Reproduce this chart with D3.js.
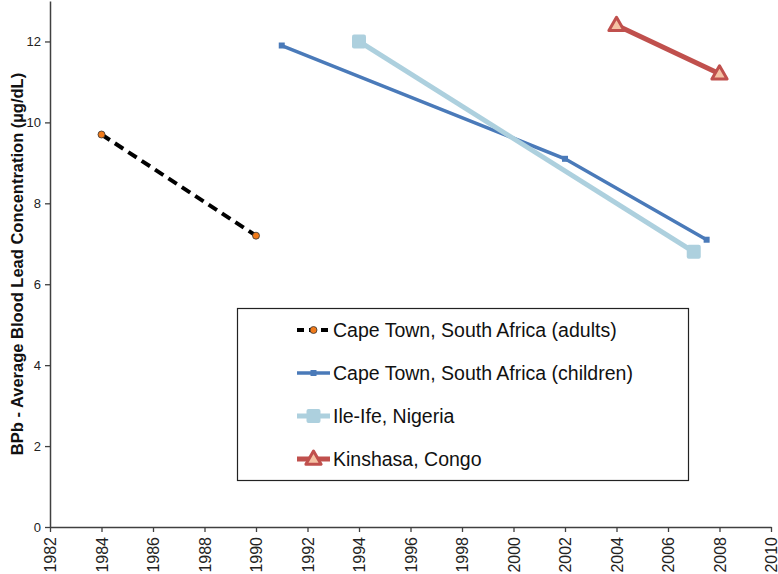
<!DOCTYPE html>
<html><head><meta charset="utf-8">
<script src="https://cdn.jsdelivr.net/npm/d3@7/dist/d3.min.js"></script>
<style>body{margin:0;background:#fff}svg{display:block}text{font-family:"Liberation Sans",Arial,sans-serif}</style>
</head><body>
<svg id="c" width="778" height="574"></svg>
<script>
const seriesNames = ["Cape Town, South Africa (adults)","Cape Town, South Africa (children)","Ile-Ife, Nigeria","Kinshasa, Congo"];
const adultsYears = [1984, 1990];
const adultsValues = [9.7, 7.2];
const childrenYears = [1991, 2002, 2007.5];
const childrenValues = [11.9, 9.1, 7.1];
const ileIfeYears = [1994, 2007];
const ileIfeValues = [12.0, 6.8];
const kinshasaYears = [2004, 2008];
const kinshasaValues = [12.4, 11.2];
const xTicks = d3.range(1982, 2011, 2);
const yTicks = [0, 2, 4, 6, 8, 10, 12];
const yTitle = "BPb - Average Blood Lead Concentration (µg/dL)";

const svg = d3.select("#c");
const x = d3.scaleLinear().domain([1982, 2010]).range([50, 771]);
const y = d3.scaleLinear().domain([0, 13]).range([527, 1]);

const yAxis = svg.append("g").attr("transform","translate(50,0)")
  .call(d3.axisLeft(y).tickValues(yTicks).tickSize(5).tickSizeOuter(0));
yAxis.select(".domain").attr("stroke","#404040").attr("stroke-width",1.5);
yAxis.selectAll(".tick line").attr("stroke","#404040").attr("stroke-width",1.3);
yAxis.selectAll(".tick text").attr("font-size",13).attr("fill","#222").attr("x",-9);

const xAxis = svg.append("g").attr("transform","translate(0,527)")
  .call(d3.axisBottom(x).tickValues(xTicks).tickFormat(d3.format("d")).tickSize(5).tickSizeOuter(0));
xAxis.select(".domain").attr("stroke","#404040").attr("stroke-width",1.5);
xAxis.selectAll(".tick line").attr("stroke","#404040").attr("stroke-width",1.3);
xAxis.selectAll(".tick text").attr("font-size",16).attr("fill","#222")
  .attr("transform","rotate(-90)").attr("text-anchor","end").attr("x",-10).attr("y",0).attr("dy","0.35em");

svg.append("text").attr("transform",`translate(23,${y(6.5)}) rotate(-90)`)
  .attr("text-anchor","middle").attr("font-size",16.5).attr("font-weight","bold").attr("fill","#111").text(yTitle);

const line = d3.line().x(d=>x(d[0])).y(d=>y(d[1]));
const zip = (a,b)=>a.map((v,i)=>[v,b[i]]);

const styles = [
  {color:"#000", width:4, dash:"10,6"},
  {color:"#4a7ab9", width:3.5, dash:null},
  {color:"#add0de", width:5, dash:null},
  {color:"#c0504d", width:5, dash:null}
];
const data = [zip(adultsYears,adultsValues), zip(childrenYears,childrenValues), zip(ileIfeYears,ileIfeValues), zip(kinshasaYears,kinshasaValues)];

function marker(g, i, cx, cy){
  if(i===0){
    g.append("circle").attr("cx",cx).attr("cy",cy).attr("r",3.5).attr("fill","#f07a1a").attr("stroke","#333").attr("stroke-width",0.8);
  } else if(i===1){
    g.append("rect").attr("x",cx-3).attr("y",cy-3).attr("width",6).attr("height",6).attr("fill","#4a7ab9");
  } else if(i===2){
    g.append("rect").attr("x",cx-7).attr("y",cy-7).attr("width",14).attr("height",14).attr("rx",2).attr("fill","#add0de");
  } else {
    const s=8;
    g.append("path").attr("d",`M${cx},${cy-s}L${cx+s*0.95},${cy+s*0.65}L${cx-s*0.95},${cy+s*0.65}Z`)
      .attr("fill","#f5c2a4").attr("stroke","#c0504d").attr("stroke-width",3).attr("stroke-linejoin","round");
  }
}

data.forEach((d,i)=>{
  const g = svg.append("g");
  g.append("path").datum(d).attr("d",line).attr("fill","none").attr("stroke",styles[i].color)
    .attr("stroke-width",styles[i].width).attr("stroke-dasharray",styles[i].dash);
  d.forEach(p=>marker(g,i,x(p[0]),y(p[1])));
});

const lg = svg.append("g");
lg.append("rect").attr("x",237.5).attr("y",308.5).attr("width",451).attr("height",172).attr("fill","#fff").attr("stroke","#222").attr("stroke-width",1.2);
const ly = [330, 373, 416, 459];
seriesNames.forEach((n,i)=>{
  const g = lg.append("g");
  g.append("line").attr("x1",297).attr("x2",330).attr("y1",ly[i]).attr("y2",ly[i]).attr("stroke",styles[i].color)
    .attr("stroke-width",styles[i].width).attr("stroke-dasharray",styles[i].dash ? "7,5" : null);
  marker(g,i,313.5,ly[i]);
  g.append("text").attr("x",333).attr("y",ly[i]).attr("dy","0.35em").attr("font-size",19.5).attr("fill","#111").text(n);
});
</script>
</body></html>
